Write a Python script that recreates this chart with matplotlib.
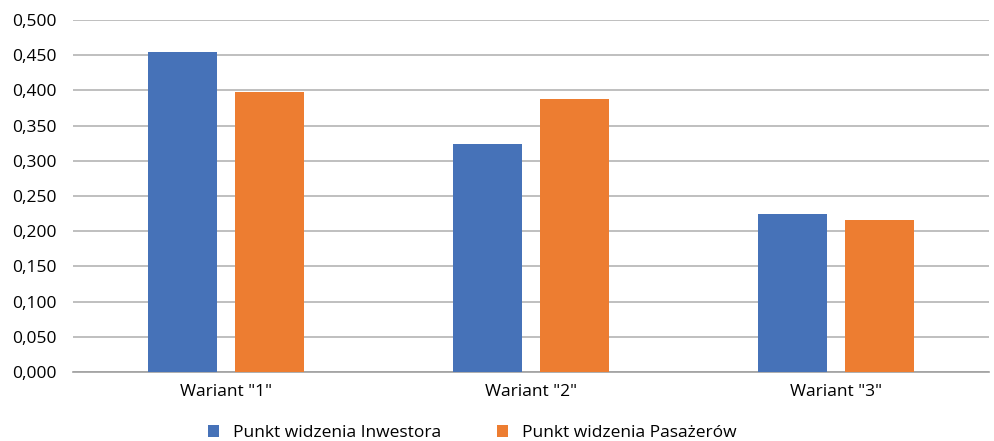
import matplotlib
matplotlib.use("Agg")
import matplotlib.pyplot as plt
import numpy as np
from matplotlib.ticker import FuncFormatter

categories = ['Wariant "1"', 'Wariant "2"', 'Wariant "3"']
inwestor = [0.454, 0.324, 0.224]
pasazerowie = [0.398, 0.388, 0.216]
series_names = ["Punkt widzenia Inwestora", "Punkt widzenia Pasażerów"]

plt.rcParams['font.family'] = ['Open Sans', 'DejaVu Sans']

fig = plt.figure(figsize=(9.94, 4.41), dpi=100)
ax = fig.add_axes([73 / 994, 1 - 372 / 441, (989 - 73) / 994, 352 / 441])

x = np.arange(len(categories))
w = 0.226
gap = 0.06
ax.bar(x - (w + gap) / 2, inwestor, w, color="#4672b8", label=series_names[0], zorder=3)
ax.bar(x + (w + gap) / 2, pasazerowie, w, color="#ed7d31", label=series_names[1], zorder=3)

ax.set_xlim(-0.5, 2.5)
ax.set_ylim(0, 0.5)
ax.set_yticks(np.arange(0, 0.501, 0.05))
ax.yaxis.set_major_formatter(FuncFormatter(lambda v, p: f"{v:.3f}".replace(".", ",")))
ax.yaxis.grid(True, color="#b4b4b4", linewidth=1.2, zorder=0)
ax.set_xticks(x)
ax.set_xticklabels(categories)
ax.tick_params(axis="both", length=0, labelsize=12.5, colors="#000000")
ax.tick_params(axis="x", pad=9)
ax.tick_params(axis="y", pad=12)
for s in ["top", "right", "left"]:
    ax.spines[s].set_visible(False)
ax.spines["bottom"].set_color("#a0a0a0")
ax.spines["bottom"].set_linewidth(1.2)

fig.legend(loc="lower center", bbox_to_anchor=(0.475, -0.035), ncol=2, frameon=False,
           fontsize=12.5, handlelength=0.65, handleheight=0.65, handletextpad=0.8,
           columnspacing=3.2)

fig.savefig("out.png", dpi=100)
